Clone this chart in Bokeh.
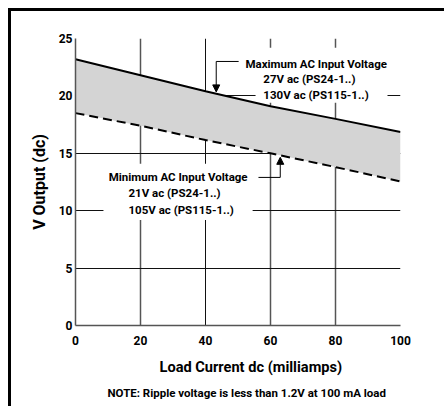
from bokeh.plotting import figure
from bokeh.models import Grid, FixedTicker, Arrow, NormalHead, Label, Title
from bokeh.embed import file_html
from bokeh.resources import INLINE

# ---- data ----
load_ma = [0, 20, 40, 60, 80, 100]
v_max = [23.2, 21.8, 20.4, 19.1, 18.0, 16.85]
v_min = [18.5, 17.4, 16.15, 15.0, 13.8, 12.55]
x_ticks = [0, 20, 40, 60, 80, 100]
y_ticks = [0, 5, 10, 15, 20, 25]

max_lines = ["Maximum AC Input Voltage", "27V ac (PS24-1..)", "130V ac (PS115-1..)"]
min_lines = ["Minimum AC Input Voltage", "21V ac (PS24-1..)", "105V ac (PS115-1..)"]
x_title = "Load Current dc (milliamps)"
y_title = "V Output (dc)"
note_text = "NOTE: Ripple voltage is less than 1.2V at 100 mA load"

FONT = "Roboto"

p = figure(width=436, height=398, x_range=(0, 100), y_range=(0, 25),
           output_backend="svg", toolbar_location=None,
           min_border_left=64, min_border_right=47, min_border_top=27, min_border_bottom=84)
p.styles = {"margin-left": "8px", "margin-top": "8px",
            "border-left": "3px solid black", "border-top": "3px solid black"}
p.outline_line_color = None
p.background_fill_color = "white"
p.border_fill_color = "white"

# axes
for ax in (p.xaxis, p.yaxis):
    ax.major_tick_in = 0
    ax.major_tick_out = 0
    ax.minor_tick_line_color = None
    ax.axis_line_color = "#555555"
    ax.axis_line_width = 1.5
    ax.major_label_text_font = FONT
    ax.major_label_text_font_style = "bold"
    ax.major_label_text_font_size = "12px"
    ax.major_label_text_color = "black"
    ax.axis_label_text_font = FONT
    ax.axis_label_text_font_style = "bold"
    ax.axis_label_text_font_size = "16px"
    ax.axis_label_text_color = "black"
p.xaxis.ticker = x_ticks
p.yaxis.ticker = y_ticks
p.xaxis.major_label_standoff = 10
p.yaxis.major_label_standoff = 3
p.yaxis.axis_label = y_title
p.yaxis.axis_label_standoff = 7

# x-axis title and note as titles below the axis
p.add_layout(Title(text=x_title, align="left", offset=84, text_font=FONT,
                   text_font_style="bold", text_font_size="14.6px", text_color="black",
                   standoff=16), "below")
p.add_layout(Title(text=note_text, align="left", offset=32, text_font=FONT,
                   text_font_style="bold", text_font_size="11.5px", text_color="black",
                   standoff=0), "below")

# grids
p.xgrid.ticker = FixedTicker(ticks=[20, 60, 80, 100])
p.xgrid.grid_line_color = "#555555"
p.xgrid.grid_line_width = 1.5
p.ygrid.ticker = FixedTicker(ticks=[5, 10, 15, 20])
p.ygrid.grid_line_color = "#111111"
p.ygrid.grid_line_width = 1
p.add_layout(Grid(dimension=0, ticker=FixedTicker(ticks=[40]),
                  grid_line_color="#111111", grid_line_width=1))

# white boxes behind annotation texts (interrupt grid lines)
p.quad(left=[55.4, 8.6], right=[96.0, 54.5], bottom=[19.4, 9.2], top=[24.2, 14.1],
       fill_color="white", line_color=None)

# shaded band
p.varea(x=load_ma, y1=v_min, y2=v_max, fill_color="#d4d4d4")
p.line(load_ma, v_max, line_color="black", line_width=2)
p.line(load_ma, v_min, line_color="black", line_width=2, line_dash="9 5")

# arrows
p.line([50.2, 43.3], [23.0, 23.0], line_color="black", line_width=1)
p.add_layout(Arrow(end=NormalHead(size=7, fill_color="black", line_color="black"),
                   x_start=43.3, y_start=23.0, x_end=43.3, y_end=20.35,
                   line_color="black", line_width=1))
p.line([56.3, 63.0], [12.9, 12.9], line_color="black", line_width=1)
p.add_layout(Arrow(end=NormalHead(size=7, fill_color="black", line_color="black"),
                   x_start=63.0, y_start=12.9, x_end=63.0, y_end=14.65,
                   line_color="black", line_width=1))

# annotation texts
max_x = [52.3, 57.8, 57.8]
max_y = [22.8, 21.45, 20.1]
min_x = [10.2, 16.3, 16.3]
min_y = [12.9, 11.55, 10.1]
for txts, xs, ys in ((max_lines, max_x, max_y), (min_lines, min_x, min_y)):
    for t, xx, yy in zip(txts, xs, ys):
        p.add_layout(Label(x=xx, y=yy, text=t, text_font=FONT, text_font_style="bold",
                           text_font_size="11.5px", text_align="left",
                           text_baseline="middle", text_color="black"))

open("out.html", "w").write(file_html(p, INLINE))
